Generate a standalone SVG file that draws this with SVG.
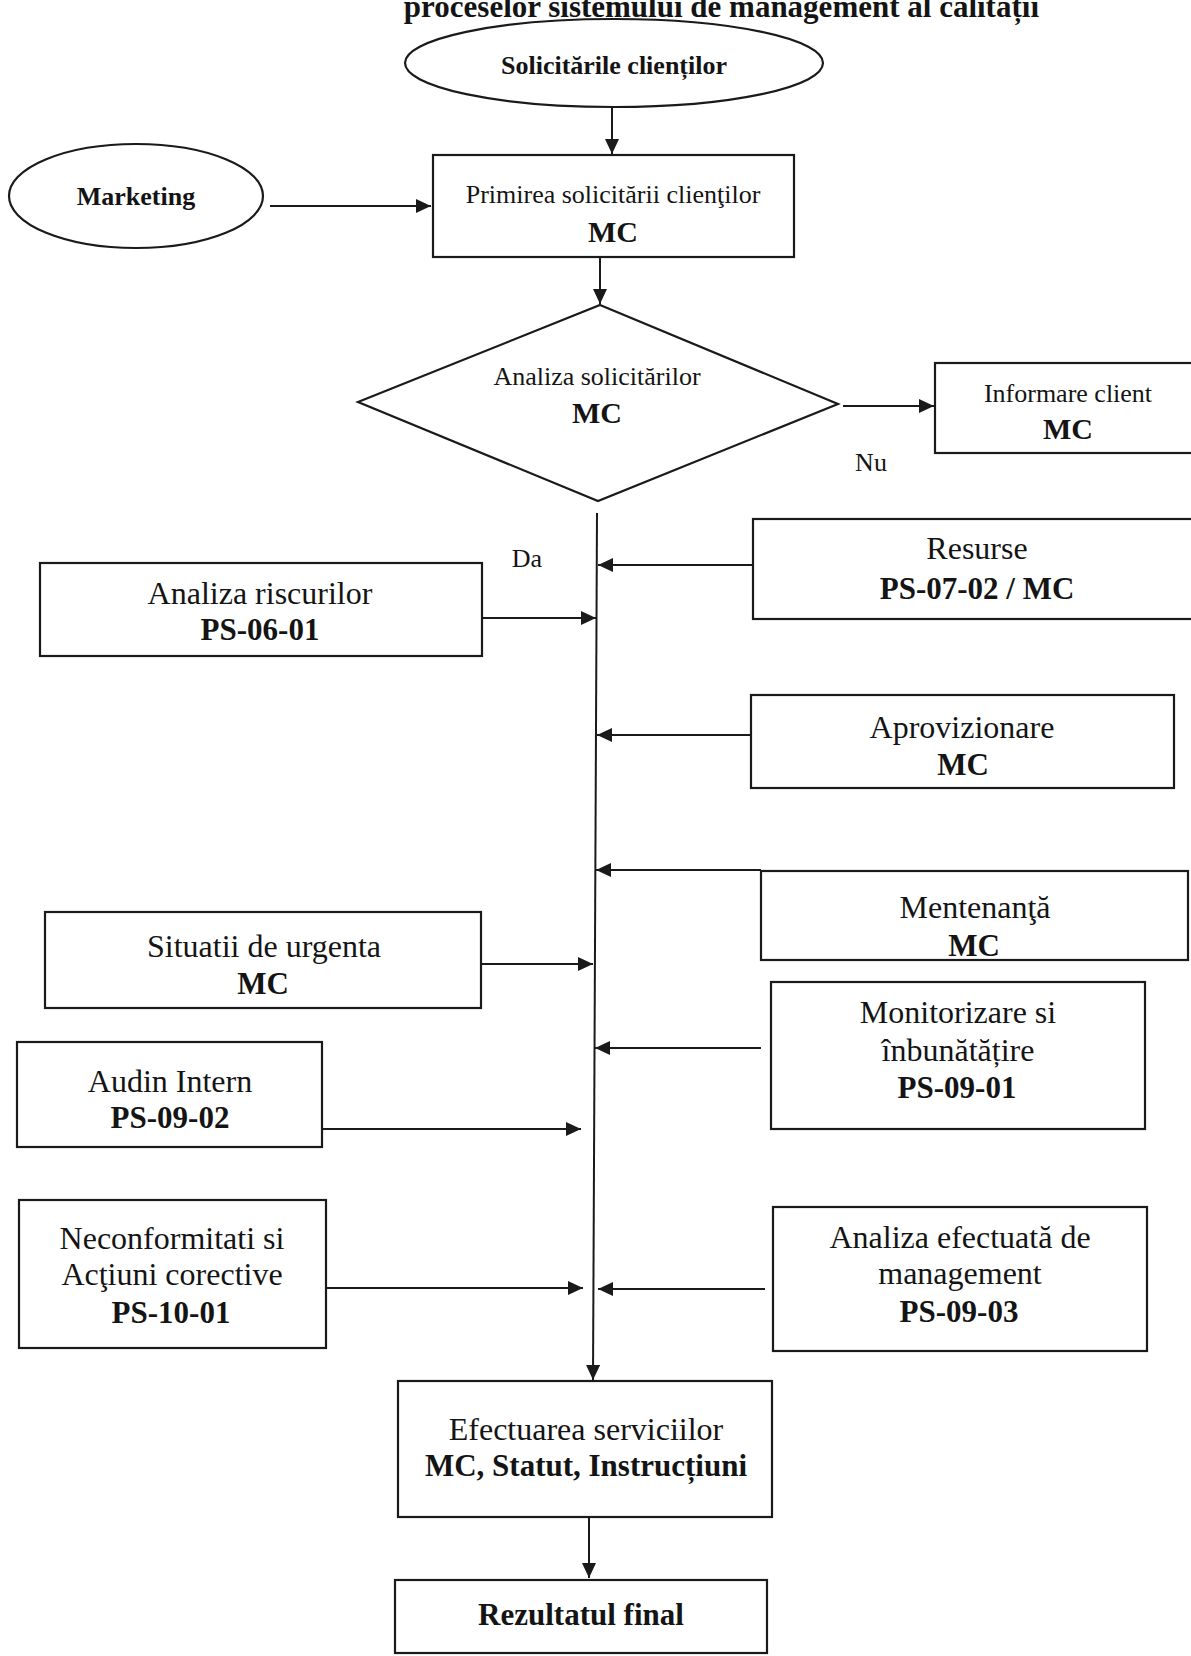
<svg xmlns="http://www.w3.org/2000/svg" width="1191" height="1656" viewBox="0 0 1191 1656">
<style>
  .bg { fill: #ffffff; }
  .shape { fill: none; stroke: #1a1a1a; stroke-width: 2.2; }
  .conn { fill: none; stroke: #1a1a1a; stroke-width: 2; }
  .t { font-family: "Liberation Serif", "Times New Roman", serif; fill: #141414; text-anchor: middle; }
  .r26 { font-size: 26px; }
  .r32 { font-size: 32px; }
  .b26 { font-size: 26px; font-weight: bold; }
  .b30 { font-size: 30px; font-weight: bold; }
  .b31 { font-size: 31px; font-weight: bold; }
</style>
<defs>
  <marker id="ah" markerUnits="userSpaceOnUse" markerWidth="16" markerHeight="14" refX="15" refY="7" orient="auto">
    <path d="M0,0 L15,7 L0,14 z" fill="#1a1a1a"/>
  </marker>
</defs>
<rect class="bg" x="0" y="0" width="1191" height="1656"/>

<text class="t b31" x="1039" y="17" style="text-anchor:end">proceselor sistemului de management al calității</text>

<g id="connectors">
  <line class="conn" x1="612" y1="107" x2="612" y2="154" marker-end="url(#ah)"/>
  <line class="conn" x1="270" y1="206" x2="431" y2="206" marker-end="url(#ah)"/>
  <line class="conn" x1="600" y1="258" x2="600" y2="304" marker-end="url(#ah)"/>
  <line class="conn" x1="843" y1="406" x2="934" y2="406" marker-end="url(#ah)"/>
  <path class="conn" d="M597,513 L593,1380" marker-end="url(#ah)"/>
  <line class="conn" x1="753" y1="565" x2="598" y2="565" marker-end="url(#ah)"/>
  <line class="conn" x1="482" y1="618" x2="596" y2="618" marker-end="url(#ah)"/>
  <line class="conn" x1="751" y1="735" x2="597" y2="735" marker-end="url(#ah)"/>
  <line class="conn" x1="761" y1="870" x2="596" y2="870" marker-end="url(#ah)"/>
  <line class="conn" x1="482" y1="964" x2="593" y2="964" marker-end="url(#ah)"/>
  <line class="conn" x1="761" y1="1048" x2="595" y2="1048" marker-end="url(#ah)"/>
  <line class="conn" x1="322" y1="1129" x2="581" y2="1129" marker-end="url(#ah)"/>
  <line class="conn" x1="326" y1="1288" x2="583" y2="1288" marker-end="url(#ah)"/>
  <line class="conn" x1="765" y1="1289" x2="598" y2="1289" marker-end="url(#ah)"/>
  <line class="conn" x1="589" y1="1518" x2="589" y2="1578" marker-end="url(#ah)"/>
</g>

<g id="n-solicitari">
  <ellipse class="shape" cx="614" cy="63" rx="209" ry="44"/>
  <text class="t b26" x="614" y="74">Solicitările clienților</text>
</g>

<g id="n-marketing">
  <ellipse class="shape" cx="136" cy="196" rx="127" ry="52"/>
  <text class="t b26" x="136" y="205">Marketing</text>
</g>

<g id="n-primirea">
  <rect class="shape" x="433" y="155" width="361" height="102"/>
  <text class="t r26" x="613" y="203">Primirea solicitării clienţilor</text>
  <text class="t b30" x="613" y="242">MC</text>
</g>

<g id="n-analiza-solicitari">
  <polygon class="shape" points="600,305 838,404 598,501 358,402"/>
  <text class="t r26" x="597" y="385">Analiza solicitărilor</text>
  <text class="t b30" x="597" y="423">MC</text>
</g>

<g id="n-informare">
  <rect class="shape" x="935" y="363" width="270" height="90"/>
  <text class="t r26" x="1068" y="402">Informare client</text>
  <text class="t b30" x="1068" y="439">MC</text>
</g>

<g id="lbl-nu"><text class="t r26" x="871" y="471">Nu</text></g>
<g id="lbl-da"><text class="t r26" x="527" y="567">Da</text></g>

<g id="n-resurse">
  <rect class="shape" x="753" y="519" width="450" height="100"/>
  <text class="t r32" x="977" y="559">Resurse</text>
  <text class="t b31" x="977" y="599">PS-07-02 / MC</text>
</g>

<g id="n-riscuri">
  <rect class="shape" x="40" y="563" width="442" height="93"/>
  <text class="t r32" x="260" y="604">Analiza riscurilor</text>
  <text class="t b31" x="260" y="640">PS-06-01</text>
</g>

<g id="n-aprovizionare">
  <rect class="shape" x="751" y="695" width="423" height="93"/>
  <text class="t r32" x="962" y="738">Aprovizionare</text>
  <text class="t b31" x="963" y="775">MC</text>
</g>

<g id="n-mentenanta">
  <rect class="shape" x="761" y="871" width="427" height="89"/>
  <text class="t r32" x="975" y="918">Mentenanţă</text>
  <text class="t b31" x="974" y="956">MC</text>
</g>

<g id="n-situatii">
  <rect class="shape" x="45" y="912" width="436" height="96"/>
  <text class="t r32" x="264" y="957">Situatii de urgenta</text>
  <text class="t b31" x="263" y="994">MC</text>
</g>

<g id="n-monitorizare">
  <rect class="shape" x="771" y="982" width="374" height="147"/>
  <text class="t r32" x="958" y="1023">Monitorizare si</text>
  <text class="t r32" x="958" y="1061">înbunătățire</text>
  <text class="t b31" x="957" y="1098">PS-09-01</text>
</g>

<g id="n-audit">
  <rect class="shape" x="17" y="1042" width="305" height="105"/>
  <text class="t r32" x="170" y="1092">Audin Intern</text>
  <text class="t b31" x="170" y="1128">PS-09-02</text>
</g>

<g id="n-analiza-management">
  <rect class="shape" x="773" y="1207" width="374" height="144"/>
  <text class="t r32" x="960" y="1248">Analiza efectuată de</text>
  <text class="t r32" x="960" y="1284">management</text>
  <text class="t b31" x="959" y="1322">PS-09-03</text>
</g>

<g id="n-neconformitati">
  <rect class="shape" x="19" y="1200" width="307" height="148"/>
  <text class="t r32" x="172" y="1249">Neconformitati si</text>
  <text class="t r32" x="172" y="1285">Acţiuni corective</text>
  <text class="t b31" x="171" y="1323">PS-10-01</text>
</g>

<g id="n-efectuarea">
  <rect class="shape" x="398" y="1381" width="374" height="136"/>
  <text class="t r32" x="586" y="1440">Efectuarea serviciilor</text>
  <text class="t b31" x="586" y="1476">MC, Statut, Instrucțiuni</text>
</g>

<g id="n-rezultat">
  <rect class="shape" x="395" y="1580" width="372" height="73"/>
  <text class="t b31" x="581" y="1625">Rezultatul final</text>
</g>
</svg>
